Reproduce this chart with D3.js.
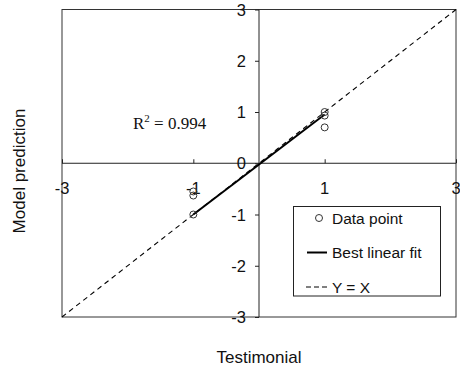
<!DOCTYPE html>
<html lang="en">
<head>
<meta charset="UTF-8">
<title>Model prediction vs Testimonial</title>
<script src="https://d3js.org/d3.v7.min.js"></script>
<style>
  body { margin: 0; background: #fff; }
  svg text { font-family: "Liberation Sans", Arial, sans-serif; fill: #111; }
</style>
</head>
<body>
<svg id="chart" width="460" height="371"></svg>
<script>
// data
const pointX = [1, 1, 1, -1, -1, -1];
const pointY = [1.0, 0.93, 0.7, -0.55, -0.63, -1.0];
const fitX = [-1, 1];
const fitY = [-1.0, 0.95];
const diagX = [-3, 3];
const diagY = [-3, 3];
const tickVals = [-3, -1, 1, 3];
const yTickVals = [-3, -2, -1, 0, 1, 2, 3];
const r2Label = "0.994";
const legendItems = ["Data point", "Best linear fit", "Y = X"];

const svg = d3.select('#chart');
const x = d3.scaleLinear().domain([-3, 3]).range([62, 456]);
const y = d3.scaleLinear().domain([-3, 3]).range([317, 9.5]);

// frame
svg.append('rect')
  .attr('x', x(-3)).attr('y', y(3))
  .attr('width', x(3) - x(-3)).attr('height', y(-3) - y(3))
  .attr('fill', 'none').attr('stroke', '#333').attr('stroke-width', 1);

// axes through the origin
const xAxis = d3.axisTop(x).tickValues(tickVals).tickSize(4).tickFormat('');
const gx = svg.append('g').attr('transform', `translate(0,${y(0)})`).call(xAxis);
const yAxis = d3.axisLeft(y).tickValues(yTickVals).tickSize(4).tickFormat('');
const gy = svg.append('g').attr('transform', `translate(${x(0)},0)`).call(yAxis);
[gx, gy].forEach(g => {
  g.select('.domain').attr('stroke', '#222');
  g.selectAll('.tick line').attr('stroke', '#222');
});
gx.select('.domain').attr('d', `M${x(-3)},0H${x(3)}`);
gy.select('.domain').attr('d', `M0,${y(-3)}V${y(3)}`);

// tick labels
svg.append('g').selectAll('text').data(tickVals).enter().append('text')
  .attr('x', d => x(d)).attr('y', y(0) + 31)
  .attr('text-anchor', 'middle').attr('font-size', 16.5)
  .text(d => d);
svg.append('g').selectAll('text').data(yTickVals).enter().append('text')
  .attr('x', x(0) - 13).attr('y', d => y(d) + 6)
  .attr('text-anchor', 'end').attr('font-size', 16.5)
  .text(d => d);

// Y = X
const line = d3.line().x(d => x(d[0])).y(d => y(d[1]));
svg.append('path')
  .attr('d', line(d3.zip(diagX, diagY)))
  .attr('fill', 'none').attr('stroke', '#000').attr('stroke-width', 1.1)
  .attr('stroke-dasharray', '5,4');

// best fit
svg.append('path')
  .attr('d', line(d3.zip(fitX, fitY)))
  .attr('fill', 'none').attr('stroke', '#000').attr('stroke-width', 2);

// points
svg.append('g').selectAll('circle').data(d3.zip(pointX, pointY)).enter().append('circle')
  .attr('cx', d => x(d[0])).attr('cy', d => y(d[1])).attr('r', 3.5)
  .attr('fill', 'none').attr('stroke', '#333').attr('stroke-width', 1);

// R^2
const r2 = svg.append('text')
  .attr('x', 133).attr('y', 129)
  .attr('font-size', 17)
  .style('font-family', '"Liberation Serif", "Times New Roman", serif');
r2.append('tspan').text('R');
r2.append('tspan').attr('dy', -7).attr('font-size', 11).text('2');
r2.append('tspan').attr('dy', 7).text(' = ' + r2Label);

// legend
const lg = svg.append('g');
lg.append('rect').attr('x', 293.5).attr('y', 206.5).attr('width', 147).attr('height', 89.5)
  .attr('fill', '#fff').attr('stroke', '#222');
const rows = [218, 252.5, 287];
lg.append('circle').attr('cx', 319).attr('cy', rows[0]).attr('r', 3.5)
  .attr('fill', 'none').attr('stroke', '#333');
lg.append('line').attr('x1', 307).attr('x2', 327).attr('y1', rows[1]).attr('y2', rows[1])
  .attr('stroke', '#000').attr('stroke-width', 2);
lg.append('line').attr('x1', 306).attr('x2', 328).attr('y1', rows[2]).attr('y2', rows[2])
  .attr('stroke', '#000').attr('stroke-dasharray', '5,3');
lg.selectAll('text.item').data(legendItems).enter().append('text')
  .attr('class', 'item')
  .attr('x', 332).attr('y', (d, i) => rows[i] + 5.5)
  .attr('font-size', 15.5)
  .text(d => d);

// axis titles
svg.append('text').attr('x', 259).attr('y', 363)
  .attr('text-anchor', 'middle').attr('font-size', 17).text('Testimonial');
svg.append('text').attr('transform', 'translate(25,171) rotate(-90)')
  .attr('text-anchor', 'middle').attr('font-size', 17).text('Model prediction');
</script>
</body>
</html>
